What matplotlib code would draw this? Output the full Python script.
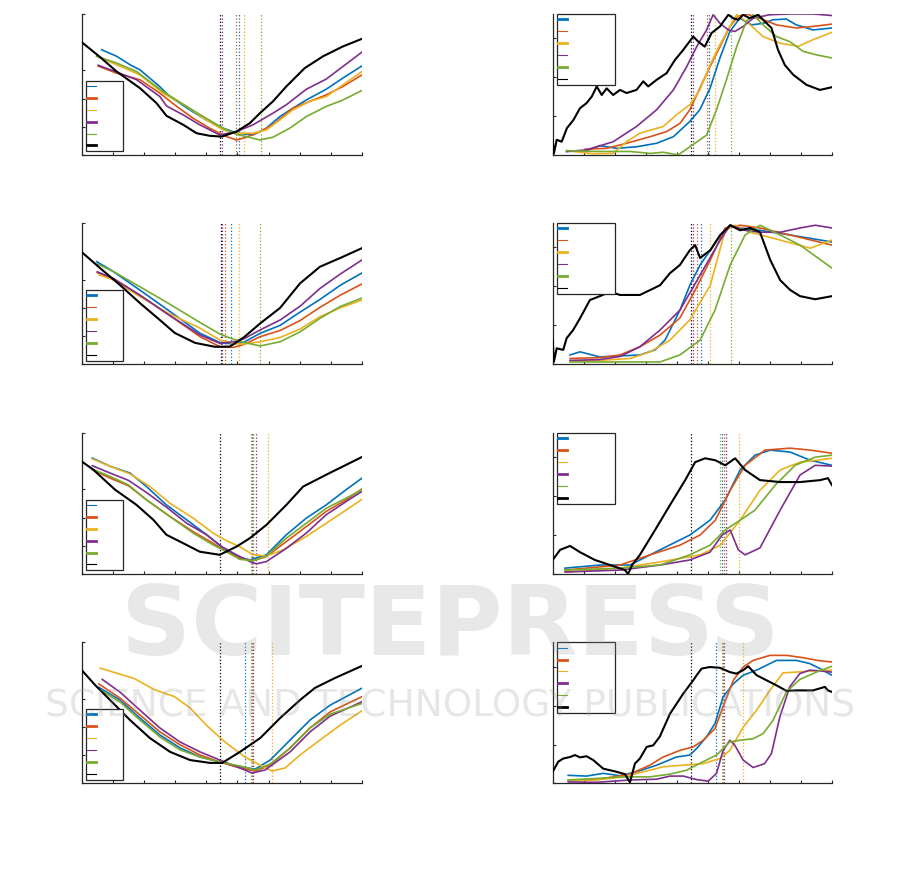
"""
Eight panels: left column V-shaped error curves, right column rising scores.
"""

import numpy as np
import matplotlib
matplotlib.use('Agg')
import matplotlib.pyplot as plt

# series order: blue, orange, yellow, purple, green, black
COLORS = ['#0072BD', '#D95319', '#EDB120', '#7E2F8E', '#77AC30', '#000000']

# ---- row 1 ----
l1_blue = [(0.64, 3.73), (1.12, 3.50), (1.55, 3.20), (1.87, 3.02), (2.5, 2.43), (2.83, 2.07), (3.47, 1.60), (4.0, 1.24), (4.54, 0.95), (5.0, 0.77), (5.5, 0.71), (5.93, 0.95), (6.36, 1.36), (6.78, 1.66), (7.21, 1.95), (7.85, 2.33), (8.39, 2.73), (9.0, 3.16)]
l1_orange = [(0.53, 3.15), (1.12, 2.90), (1.87, 2.67), (2.51, 2.19), (3.05, 1.72), (3.58, 1.30), (4.11, 0.95), (4.65, 0.65), (4.97, 0.53), (5.29, 0.63), (5.72, 0.83), (6.14, 1.07), (6.78, 1.66), (7.32, 1.90), (7.85, 2.13), (8.39, 2.43), (9.0, 2.84)]
l1_yellow = [(0.48, 3.50), (1.12, 3.20), (1.87, 2.84), (2.61, 2.19), (3.37, 1.72), (4.0, 1.24), (4.54, 0.89), (4.97, 0.77), (5.5, 0.77), (5.93, 0.89), (6.36, 1.24), (6.78, 1.60), (7.32, 1.90), (7.85, 2.07), (8.39, 2.49), (9.0, 2.96)]
l1_purple = [(0.53, 3.18), (1.07, 2.96), (1.76, 2.67), (2.51, 2.07), (2.72, 1.74), (3.26, 1.42), (3.79, 1.07), (4.43, 0.71), (4.97, 0.83), (5.5, 1.07), (6.14, 1.48), (6.57, 1.78), (7.21, 2.33), (7.85, 2.69), (8.39, 3.14), (9.0, 3.65)]
l1_green = [(0.48, 3.50), (1.12, 3.26), (1.76, 2.96), (2.61, 2.25), (3.37, 1.72), (4.0, 1.30), (4.54, 0.95), (4.97, 0.73), (5.29, 0.65), (5.72, 0.53), (6.14, 0.63), (6.68, 0.95), (7.21, 1.36), (7.85, 1.72), (8.39, 1.95), (9.0, 2.29)]
l1_black = [(0, 4.0), (0.59, 3.47), (1.12, 2.96), (1.87, 2.37), (2.40, 1.84), (2.72, 1.39), (3.26, 1.07), (3.69, 0.77), (4.11, 0.68), (4.49, 0.65), (4.97, 0.83), (5.40, 1.13), (5.72, 1.48), (6.14, 1.90), (6.57, 2.43), (7.16, 3.08), (7.75, 3.50), (8.39, 3.85), (9.0, 4.12)]
l1_vlines = [5.05, 4.94, 5.21, 4.51, 5.75, 4.455]

r1_blue = [(0.45, 0.09), (1.09, 0.11), (1.52, 0.24), (2.06, 0.17), (2.70, 0.21), (3.35, 0.30), (3.89, 0.47), (4.42, 0.86), (4.74, 1.16), (5.07, 1.71), (5.39, 2.49), (5.71, 3.17), (6.03, 3.51), (6.41, 3.34), (6.78, 3.38), (7.10, 3.47), (7.53, 3.49), (7.85, 3.34), (8.39, 3.21), (9.0, 3.26)]
r1_orange = [(1.04, 0.15), (1.74, 0.17), (2.38, 0.30), (3.14, 0.47), (3.67, 0.60), (4.10, 0.81), (4.42, 1.16), (4.74, 1.71), (5.07, 2.27), (5.39, 2.78), (5.71, 3.30), (5.98, 3.56), (6.24, 3.62), (6.67, 3.51), (7.21, 3.34), (7.85, 3.26), (8.39, 3.30), (9.0, 3.36)]
r1_yellow = [(0.45, 0.11), (1.31, 0.03), (1.95, 0.04), (2.38, 0.34), (2.81, 0.56), (3.56, 0.73), (3.99, 1.03), (4.42, 1.29), (4.74, 1.67), (5.07, 2.31), (5.39, 2.83), (5.71, 3.30), (5.93, 3.60), (6.24, 3.43), (6.78, 3.04), (7.32, 2.87), (7.92, 2.79), (8.39, 2.96), (9.0, 3.15)]
r1_purple = [(0.45, 0.09), (1.09, 0.13), (1.95, 0.34), (2.70, 0.73), (3.35, 1.16), (3.89, 1.67), (4.32, 2.27), (4.64, 2.78), (4.96, 3.21), (5.17, 3.60), (5.39, 3.38), (5.66, 3.21), (5.87, 3.17), (6.14, 3.30), (6.46, 3.51), (6.99, 3.60), (7.64, 3.62), (8.39, 3.62), (9.0, 3.58)]
r1_green = [(0.45, 0.11), (1.42, 0.09), (2.49, 0.09), (3.14, 0.04), (3.56, 0.07), (4.04, 0.0), (4.42, 0.21), (4.96, 0.51), (5.28, 1.16), (5.60, 1.93), (5.93, 2.78), (6.24, 3.43), (6.46, 3.60), (6.78, 3.34), (7.21, 3.04), (7.64, 2.91), (8.07, 2.66), (8.50, 2.57), (9.0, 2.49)]
r1_black = [(0, 0.39), (0.04, 0.04), (0.13, 0.39), (0.29, 0.34), (0.46, 0.69), (0.67, 0.90), (0.88, 1.20), (1.09, 1.33), (1.26, 1.50), (1.42, 1.76), (1.58, 1.54), (1.74, 1.71), (1.95, 1.54), (2.17, 1.67), (2.38, 1.59), (2.70, 1.67), (2.92, 1.89), (3.08, 1.76), (3.35, 1.93), (3.67, 2.10), (3.94, 2.44), (4.21, 2.70), (4.53, 3.04), (4.69, 2.91), (4.90, 2.78), (5.12, 3.13), (5.39, 3.30), (5.66, 3.60), (5.82, 3.51), (5.98, 3.47), (6.14, 3.60), (6.35, 3.51), (6.62, 3.60), (6.78, 3.47), (7.05, 3.26), (7.26, 2.70), (7.48, 2.31), (7.75, 2.06), (8.18, 1.80), (8.61, 1.67), (9.0, 1.74)]
r1_vlines = [5.05, 4.96, 5.23, 4.53, 5.76, 4.46]

# ---- row 2 ----
l2_blue = [(0.48, 3.64), (1.0, 3.30), (1.87, 2.63), (2.8, 1.90), (3.80, 1.10), (4.44, 0.77), (4.87, 0.72), (5.20, 0.78), (5.73, 1.10), (6.37, 1.38), (7.01, 1.85), (7.65, 2.30), (8.30, 2.80), (9.0, 3.24)]
l2_orange = [(0.50, 3.25), (1.0, 3.05), (1.87, 2.45), (2.8, 1.75), (3.80, 0.98), (4.44, 0.62), (4.87, 0.60), (5.20, 0.70), (5.73, 0.98), (6.37, 1.20), (7.01, 1.55), (7.65, 2.02), (8.30, 2.45), (9.0, 2.85)]
l2_yellow = [(0.56, 3.17), (1.0, 3.0), (1.87, 2.40), (2.8, 1.80), (3.80, 1.28), (4.44, 0.86), (4.87, 0.74), (5.20, 0.72), (5.73, 0.80), (6.37, 0.95), (7.01, 1.25), (7.65, 1.69), (8.30, 2.00), (9.0, 2.28)]
l2_purple = [(0.50, 3.28), (1.0, 3.05), (1.87, 2.45), (2.8, 1.75), (3.80, 1.04), (4.44, 0.74), (4.87, 0.80), (5.20, 0.90), (5.73, 1.22), (6.37, 1.57), (7.01, 2.06), (7.65, 2.69), (8.30, 3.20), (9.0, 3.70)]
l2_green = [(0.50, 3.56), (1.0, 3.30), (1.87, 2.75), (2.8, 2.15), (3.80, 1.48), (4.44, 1.07), (4.87, 0.89), (5.20, 0.78), (5.73, 0.65), (6.37, 0.80), (7.01, 1.15), (7.65, 1.63), (8.30, 2.05), (9.0, 2.35)]
l2_black = [(0, 3.98), (0.59, 3.41), (1.23, 2.81), (1.87, 2.17), (2.51, 1.57), (2.99, 1.11), (3.64, 0.76), (4.28, 0.62), (4.76, 0.63), (5.20, 0.95), (5.73, 1.45), (6.37, 2.00), (7.01, 2.87), (7.65, 3.46), (8.30, 3.77), (9.0, 4.12)]
l2_vlines = [4.78, 4.60, 5.06, 4.52, 5.73, 4.46]

r2_blue = [(0.56, 0.24), (0.88, 0.32), (1.52, 0.19), (2.81, 0.24), (3.30, 0.37), (3.62, 0.62), (4.10, 1.39), (4.42, 2.03), (4.75, 2.55), (5.08, 2.93), (5.40, 3.32), (5.72, 3.57), (6.04, 3.50), (6.68, 3.44), (7.65, 3.32), (9.0, 3.14)]
r2_orange = [(0.56, 0.15), (1.5, 0.17), (2.17, 0.24), (2.81, 0.45), (3.46, 0.75), (4.10, 1.19), (4.59, 1.90), (5.08, 2.68), (5.56, 3.50), (6.04, 3.57), (6.68, 3.50), (7.65, 3.32), (9.0, 3.06)]
r2_yellow = [(0.56, 0.08), (1.5, 0.10), (2.5, 0.15), (3.14, 0.32), (3.78, 0.62), (4.42, 1.14), (5.08, 2.03), (5.56, 3.44), (5.88, 3.57), (6.36, 3.39), (7.33, 3.19), (8.30, 2.98), (9.0, 3.19)]
r2_purple = [(0.56, 0.10), (1.5, 0.12), (2.17, 0.20), (2.81, 0.45), (3.46, 0.88), (4.10, 1.39), (4.75, 2.29), (5.40, 3.19), (5.72, 3.57), (6.20, 3.44), (6.68, 3.39), (7.33, 3.39), (7.97, 3.50), (8.46, 3.57), (9.0, 3.50)]
r2_green = [(0.56, 0.06), (2.17, 0.06), (3.46, 0.06), (4.10, 0.24), (4.75, 0.62), (5.23, 1.39), (5.72, 2.55), (6.20, 3.32), (6.68, 3.57), (7.33, 3.32), (7.97, 3.06), (9.0, 2.47)]
r2_black = [(0, 0.62), (0.04, 0.07), (0.13, 0.41), (0.34, 0.37), (0.45, 0.67), (0.66, 0.88), (0.88, 1.18), (1.20, 1.65), (1.52, 1.75), (1.85, 1.86), (2.17, 1.78), (2.81, 1.78), (3.46, 2.03), (3.78, 2.34), (4.10, 2.55), (4.42, 2.93), (4.59, 3.06), (4.75, 2.73), (5.08, 2.93), (5.40, 3.32), (5.72, 3.57), (6.04, 3.44), (6.36, 3.50), (6.68, 3.39), (7.01, 2.68), (7.33, 2.16), (7.65, 1.91), (7.97, 1.75), (8.46, 1.67), (9.0, 1.75)]
r2_vlines = [4.78, 4.65, 5.07, 4.52, 5.74, 4.46]

# ---- row 3 ----
l3_blue = [(0.34, 4.11), (0.91, 3.82), (1.55, 3.58), (2.08, 3.10), (2.72, 2.45), (3.37, 1.92), (4.01, 1.39), (4.49, 0.97), (4.97, 0.62), (5.40, 0.50), (5.93, 0.68), (6.57, 1.39), (7.21, 1.98), (7.85, 2.45), (8.49, 2.99), (9.0, 3.40)]
l3_orange = [(0.34, 3.70), (0.91, 3.40), (1.50, 3.13), (2.08, 2.63), (2.83, 2.04), (3.58, 1.50), (4.22, 1.09), (4.65, 0.79), (5.07, 0.56), (5.50, 0.47), (5.93, 0.62), (6.57, 1.15), (7.21, 1.68), (7.85, 2.22), (8.49, 2.63), (9.0, 3.02)]
l3_yellow = [(0.34, 4.08), (0.91, 3.82), (1.55, 3.55), (2.19, 3.10), (2.83, 2.51), (3.58, 1.98), (4.22, 1.45), (4.65, 1.18), (5.07, 0.97), (5.50, 0.68), (5.93, 0.64), (6.46, 0.85), (7.21, 1.33), (7.85, 1.80), (8.49, 2.27), (9.0, 2.65)]
l3_purple = [(0.34, 3.84), (0.91, 3.58), (1.50, 3.32), (2.08, 2.89), (2.72, 2.37), (3.37, 1.80), (4.01, 1.39), (4.49, 0.97), (4.97, 0.68), (5.40, 0.44), (5.61, 0.36), (5.93, 0.44), (6.57, 0.91), (7.21, 1.45), (7.85, 2.10), (8.49, 2.57), (9.0, 2.93)]
l3_green = [(0.34, 3.72), (0.91, 3.46), (1.50, 3.16), (2.08, 2.63), (2.83, 2.04), (3.58, 1.45), (4.22, 1.03), (4.65, 0.79), (5.07, 0.52), (5.50, 0.47), (5.93, 0.64), (6.57, 1.27), (7.21, 1.80), (7.85, 2.33), (8.49, 2.69), (9.0, 2.99)]
l3_black = [(0, 3.99), (0.37, 3.70), (1.07, 2.99), (1.76, 2.45), (2.30, 1.92), (2.72, 1.39), (3.26, 1.09), (3.79, 0.79), (4.43, 0.68), (4.97, 0.97), (5.40, 1.27), (5.93, 1.74), (6.57, 2.45), (7.11, 3.10), (7.85, 3.52), (8.49, 3.87), (9.0, 4.15)]
l3_vlines = [5.47, 5.49, 5.98, 5.61, 5.44, 4.455]

r3_blue = [(0.40, 0.15), (1.52, 0.23), (2.49, 0.23), (3.46, 0.62), (4.42, 1.00), (5.07, 1.38), (5.56, 1.90), (6.04, 2.67), (6.52, 3.05), (7.01, 3.18), (7.65, 3.13), (8.30, 2.92), (9.0, 2.79)]
r3_orange = [(0.40, 0.10), (2.17, 0.23), (3.14, 0.49), (4.10, 0.74), (4.75, 1.00), (5.24, 1.38), (5.72, 2.15), (6.20, 2.79), (6.84, 3.18), (7.65, 3.23), (8.30, 3.18), (9.0, 3.10)]
r3_yellow = [(0.40, 0.05), (2.17, 0.15), (3.46, 0.31), (4.75, 0.49), (5.40, 0.74), (6.04, 1.38), (6.68, 2.15), (7.33, 2.67), (7.97, 2.87), (9.0, 2.97)]
r3_purple = [(0.40, 0.05), (2.17, 0.10), (3.46, 0.23), (4.42, 0.36), (5.07, 0.56), (5.46, 1.00), (5.72, 1.13), (5.98, 0.62), (6.20, 0.49), (6.68, 0.67), (7.33, 1.64), (7.97, 2.54), (8.46, 2.79), (9.0, 2.77)]
r3_green = [(0.40, 0.10), (2.17, 0.15), (3.46, 0.23), (4.42, 0.49), (5.07, 0.74), (5.56, 1.13), (6.04, 1.38), (6.52, 1.64), (7.17, 2.28), (7.81, 2.79), (8.46, 3.00), (9.0, 3.05)]
r3_black = [(0, 0.36), (0.24, 0.62), (0.56, 0.72), (0.88, 0.56), (1.36, 0.36), (1.85, 0.23), (2.33, 0.10), (2.43, 0.0), (2.56, 0.23), (2.81, 0.49), (3.30, 1.13), (3.78, 1.77), (4.27, 2.41), (4.59, 2.87), (4.91, 2.97), (5.24, 2.92), (5.56, 2.79), (5.88, 2.97), (6.20, 2.67), (6.68, 2.41), (7.33, 2.36), (7.97, 2.36), (8.62, 2.41), (8.87, 2.46), (9.0, 2.28)]
r3_vlines = [5.46, 5.52, 6.00, 5.58, 5.39, 4.46]

# ---- row 4 ----
l4_blue = [(0.55, 3.41), (1.23, 2.96), (1.87, 2.32), (2.51, 1.72), (3.16, 1.26), (3.80, 0.94), (4.44, 0.76), (5.08, 0.59), (5.57, 0.51), (6.05, 0.83), (6.69, 1.54), (7.33, 2.25), (7.98, 2.78), (9.0, 3.38)]
l4_orange = [(0.55, 3.53), (1.23, 3.03), (1.87, 2.43), (2.51, 1.83), (3.16, 1.37), (3.80, 1.01), (4.44, 0.76), (5.08, 0.55), (5.57, 0.44), (6.05, 0.65), (6.69, 1.26), (7.33, 1.97), (7.98, 2.54), (9.0, 3.08)]
l4_yellow = [(0.59, 4.09), (1.67, 3.73), (2.35, 3.32), (2.98, 3.08), (3.48, 2.68), (4.0, 2.07), (4.60, 1.47), (5.24, 0.94), (5.73, 0.65), (6.11, 0.44), (6.53, 0.55), (7.01, 1.01), (7.65, 1.54), (8.30, 2.07), (9.0, 2.58)]
l4_purple = [(0.66, 3.69), (1.23, 3.24), (1.87, 2.60), (2.51, 1.97), (3.16, 1.47), (3.80, 1.12), (4.44, 0.83), (5.08, 0.55), (5.47, 0.37), (5.89, 0.48), (6.69, 1.12), (7.33, 1.83), (7.98, 2.39), (9.0, 2.90)]
l4_green = [(0.59, 3.32), (1.23, 2.89), (1.87, 2.25), (2.51, 1.65), (3.16, 1.19), (3.80, 0.94), (4.44, 0.76), (5.08, 0.62), (5.57, 0.48), (6.05, 0.69), (6.69, 1.26), (7.33, 1.97), (7.98, 2.46), (9.0, 2.84)]
l4_black = [(0, 4.02), (0.43, 3.49), (0.91, 2.96), (1.55, 2.25), (2.19, 1.61), (2.84, 1.12), (3.48, 0.83), (4.12, 0.73), (4.51, 0.73), (5.08, 1.12), (5.73, 1.61), (6.37, 2.32), (7.01, 2.96), (7.49, 3.39), (8.13, 3.74), (9.0, 4.17)]
l4_vlines = [5.25, 5.47, 6.10, 5.51, 5.43, 4.45]

r4_blue = [(0.50, 0.21), (1.09, 0.19), (1.63, 0.26), (2.17, 0.20), (2.70, 0.30), (3.35, 0.47), (3.99, 0.68), (4.42, 0.73), (4.64, 0.90), (4.96, 1.20), (5.23, 1.54), (5.49, 2.22), (5.82, 2.56), (6.14, 2.78), (6.57, 2.91), (7.21, 3.16), (7.85, 3.16), (8.28, 3.08), (8.61, 2.95), (9.0, 2.78)]
r4_orange = [(0.50, 0.09), (1.42, 0.10), (2.49, 0.24), (3.13, 0.47), (3.56, 0.68), (4.10, 0.85), (4.53, 0.94), (4.85, 1.11), (5.23, 1.41), (5.49, 1.97), (5.82, 2.65), (6.14, 2.99), (6.46, 3.16), (7.00, 3.29), (7.53, 3.29), (8.07, 3.23), (8.61, 3.15), (9.0, 3.12)]
r4_yellow = [(0.50, 0.07), (1.42, 0.09), (2.27, 0.17), (3.03, 0.32), (3.56, 0.43), (4.21, 0.47), (4.85, 0.51), (5.39, 0.64), (5.71, 0.85), (6.14, 1.45), (6.57, 1.88), (7.00, 2.39), (7.42, 2.84), (7.85, 2.86), (8.39, 2.89), (9.0, 2.91)]
r4_purple = [(0.50, 0.04), (1.42, 0.03), (2.49, 0.09), (3.35, 0.11), (3.78, 0.19), (4.21, 0.19), (4.64, 0.10), (5.01, 0.06), (5.28, 0.26), (5.49, 0.85), (5.71, 1.11), (5.87, 0.98), (6.14, 0.60), (6.46, 0.41), (6.83, 0.51), (7.05, 0.77), (7.32, 1.71), (7.64, 2.48), (7.96, 2.82), (8.28, 2.91), (8.61, 2.89), (9.0, 2.86)]
r4_green = [(0.50, 0.09), (1.42, 0.13), (2.27, 0.17), (3.13, 0.17), (3.78, 0.24), (4.31, 0.34), (4.85, 0.56), (5.28, 0.73), (5.71, 1.07), (6.03, 1.11), (6.46, 1.15), (6.78, 1.28), (7.10, 1.62), (7.53, 2.35), (7.96, 2.67), (8.50, 2.86), (9.0, 3.01)]
r4_black = [(0, 0.30), (0.18, 0.56), (0.34, 0.64), (0.56, 0.68), (0.72, 0.73), (0.88, 0.67), (1.09, 0.70), (1.31, 0.60), (1.63, 0.38), (2.06, 0.30), (2.33, 0.24), (2.49, 0.03), (2.65, 0.51), (2.81, 0.64), (3.03, 0.94), (3.24, 0.98), (3.45, 1.20), (3.78, 1.79), (4.21, 2.31), (4.53, 2.65), (4.64, 2.78), (4.80, 2.95), (5.06, 2.99), (5.39, 2.97), (5.71, 2.86), (5.92, 2.82), (6.14, 2.91), (6.30, 3.01), (6.57, 2.78), (6.89, 2.65), (7.21, 2.52), (7.53, 2.38), (7.85, 2.39), (8.39, 2.39), (8.77, 2.48), (8.87, 2.39), (9.0, 2.35)]
r4_vlines = [5.26, 5.50, 6.12, 5.52, 5.47, 4.46]

X_TICKS = list(range(10))
LEFT_YTICKS = [0, 1, 2, 3, 5]
RIGHT_YTICKS = [0, 1, 2, 3]

panels = [
    ([l1_blue, l1_orange, l1_yellow, l1_purple, l1_green, l1_black], l1_vlines),
    ([r1_blue, r1_orange, r1_yellow, r1_purple, r1_green, r1_black], r1_vlines),
    ([l2_blue, l2_orange, l2_yellow, l2_purple, l2_green, l2_black], l2_vlines),
    ([r2_blue, r2_orange, r2_yellow, r2_purple, r2_green, r2_black], r2_vlines),
    ([l3_blue, l3_orange, l3_yellow, l3_purple, l3_green, l3_black], l3_vlines),
    ([r3_blue, r3_orange, r3_yellow, r3_purple, r3_green, r3_black], r3_vlines),
    ([l4_blue, l4_orange, l4_yellow, l4_purple, l4_green, l4_black], l4_vlines),
    ([r4_blue, r4_orange, r4_yellow, r4_purple, r4_green, r4_black], r4_vlines),
]

# legend handle widths as rendered in each panel (thin / thick)
legend_lw = [
    [0.8, 2, 0.8, 2, 0.8, 2],
    [2, 0.8, 2, 0.8, 2, 0.8],
    [2, 0.8, 2, 0.8, 2, 0.8],
    [2, 0.8, 2, 0.8, 2, 0.8],
    [0.8, 2, 2, 2, 2, 0.8],
    [2, 2, 0.8, 2, 0.8, 2],
    [2, 2, 0.8, 0.8, 2, 0.8],
    [0.8, 2, 0.8, 2, 0.8, 2],
]

col_x = [0.0907, 0.6134]
col_w = [0.3111, 0.3100]
row_y = [0.8247, 0.5879, 0.3507, 0.1137]
ax_h = 0.1595

fig = plt.figure(figsize=(9.01, 8.84), dpi=100)

for ii, (curves, vlines) in enumerate(panels):
    row, col = ii // 2, ii % 2
    ax = fig.add_axes([col_x[col], row_y[row], col_w[col], ax_h])
    ax.set_facecolor('none')

    for jj, pts in enumerate(curves):
        pts = np.array(pts)
        lw = 1.5 if jj == 5 else 1.2
        ax.plot(pts[:, 0], pts[:, 1], color=COLORS[jj], linewidth=lw, zorder=3 + jj * 0.1)
    for jj, xv in enumerate(vlines):
        ax.axvline(xv, color=COLORS[jj], linestyle=':', linewidth=0.9, zorder=2)

    ax.set_xlim(0, 9)
    ax.set_xticks(X_TICKS)
    if col == 0:
        ax.set_ylim(0, 5)
        ax.set_yticks(LEFT_YTICKS)
    else:
        ax.set_ylim(0, 3.62)
        ax.set_yticks(RIGHT_YTICKS)
    ax.set_xticklabels([])
    ax.set_yticklabels([])
    ax.tick_params(direction='in', length=2.5, width=0.8, color='#262626')
    for side in ['top', 'right']:
        ax.spines[side].set_visible(False)
    for side in ['left', 'bottom']:
        ax.spines[side].set_color('#262626')
        ax.spines[side].set_linewidth(0.9)

    # legend without text, as in the original figure
    leg_handles = [plt.Line2D([], [], color=COLORS[jj], linewidth=legend_lw[ii][jj]) for jj in range(6)]
    if col == 0:
        loc, anchor, pad = 'lower left', (0.015, 0.025), 2.8
    else:
        loc, anchor, pad = 'upper left', (0.014, 1.0), 5.3
    leg = ax.legend(leg_handles, [' '] * 6, loc=loc, bbox_to_anchor=anchor, fontsize=6,
                    handlelength=1.1, handletextpad=pad, labelspacing=0.35, borderpad=0.13,
                    borderaxespad=0, fancybox=False, framealpha=1)
    leg.get_frame().set_edgecolor('#262626')
    leg.get_frame().set_linewidth(0.9)

# publisher watermark, semi-transparent over the panels
fig.text(0.5, 0.259, "SCITEPRESS", ha='center', va='baseline', fontsize=70,
         fontweight='bold', color='#9a9a9a', alpha=0.22, zorder=10)
fig.text(0.5, 0.190, "SCIENCE AND TECHNOLOGY PUBLICATIONS", ha='center', va='baseline',
         fontsize=27, color='#9a9a9a', alpha=0.24, zorder=10)

plt.savefig("out.png", dpi=100)
plt.close()
